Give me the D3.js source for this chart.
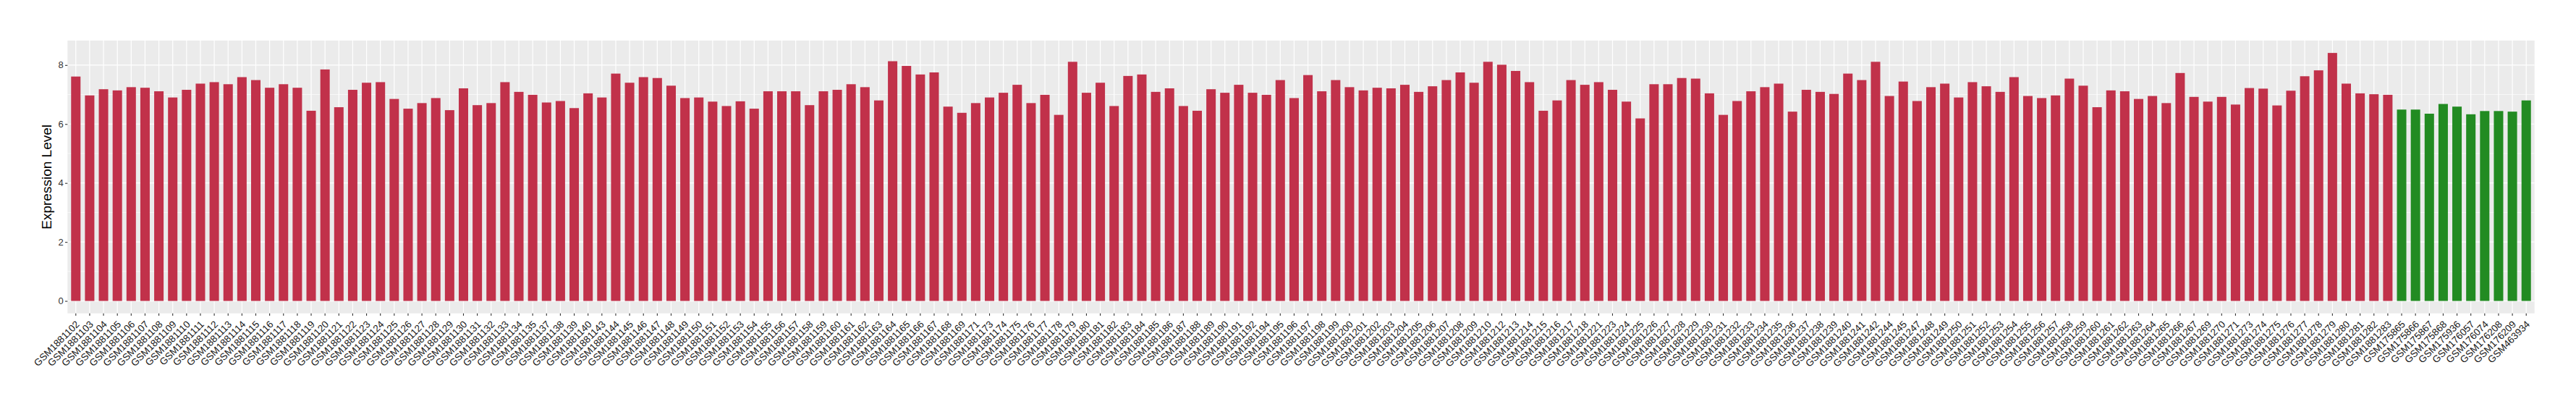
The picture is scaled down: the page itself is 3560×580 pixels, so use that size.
<!DOCTYPE html>
<html>
<head>
<meta charset="utf-8">
<script src="https://cdn.jsdelivr.net/npm/d3@7"></script>
<style>
  body { margin: 0; background: #fff; }
  svg text { font-family: "Liberation Sans", Arial, sans-serif; }
</style>
</head>
<body>
<div class="chart"></div>
<script>
// red group samples (GSE 1881xxx)
var tumorSamples = [
  "GSM1881102","GSM1881103","GSM1881104","GSM1881105","GSM1881106","GSM1881107","GSM1881108","GSM1881109",
  "GSM1881110","GSM1881111","GSM1881112","GSM1881113","GSM1881114","GSM1881115","GSM1881116","GSM1881117",
  "GSM1881118","GSM1881119","GSM1881120","GSM1881121","GSM1881122","GSM1881123","GSM1881124","GSM1881125",
  "GSM1881126","GSM1881127","GSM1881128","GSM1881129","GSM1881130","GSM1881131","GSM1881132","GSM1881133",
  "GSM1881134","GSM1881135","GSM1881137","GSM1881138","GSM1881139","GSM1881140","GSM1881143","GSM1881144",
  "GSM1881145","GSM1881146","GSM1881147","GSM1881148","GSM1881149","GSM1881150","GSM1881151","GSM1881152",
  "GSM1881153","GSM1881154","GSM1881155","GSM1881156","GSM1881157","GSM1881158","GSM1881159","GSM1881160",
  "GSM1881161","GSM1881162","GSM1881163","GSM1881164","GSM1881165","GSM1881166","GSM1881167","GSM1881168",
  "GSM1881169","GSM1881171","GSM1881173","GSM1881174","GSM1881175","GSM1881176","GSM1881177","GSM1881178",
  "GSM1881179","GSM1881180","GSM1881181","GSM1881182","GSM1881183","GSM1881184","GSM1881185","GSM1881186",
  "GSM1881187","GSM1881188","GSM1881189","GSM1881190","GSM1881191","GSM1881192","GSM1881194","GSM1881195",
  "GSM1881196","GSM1881197","GSM1881198","GSM1881199","GSM1881200","GSM1881201","GSM1881202","GSM1881203",
  "GSM1881204","GSM1881205","GSM1881206","GSM1881207","GSM1881208","GSM1881209","GSM1881210","GSM1881212",
  "GSM1881213","GSM1881214","GSM1881215","GSM1881216","GSM1881217","GSM1881218","GSM1881221","GSM1881223",
  "GSM1881224","GSM1881225","GSM1881226","GSM1881227","GSM1881228","GSM1881229","GSM1881230","GSM1881231",
  "GSM1881232","GSM1881233","GSM1881234","GSM1881235","GSM1881236","GSM1881237","GSM1881238","GSM1881239",
  "GSM1881240","GSM1881241","GSM1881242","GSM1881244","GSM1881245","GSM1881247","GSM1881248","GSM1881249",
  "GSM1881250","GSM1881251","GSM1881252","GSM1881253","GSM1881254","GSM1881255","GSM1881256","GSM1881257",
  "GSM1881258","GSM1881259","GSM1881260","GSM1881261","GSM1881262","GSM1881263","GSM1881264","GSM1881265",
  "GSM1881266","GSM1881267","GSM1881269","GSM1881270","GSM1881271","GSM1881273","GSM1881274","GSM1881275",
  "GSM1881276","GSM1881277","GSM1881278","GSM1881279","GSM1881280","GSM1881281","GSM1881282","GSM1881283"
];
var tumorValues = [
  7.61, 6.97, 7.18, 7.14, 7.25, 7.23, 7.11, 6.90, 7.16, 7.37, 7.42, 7.35, 7.59, 7.49, 7.23, 7.35,
  7.23, 6.45, 7.85, 6.57, 7.16, 7.40, 7.42, 6.85, 6.52, 6.71, 6.88, 6.47, 7.21, 6.64, 6.71, 7.42,
  7.09, 6.99, 6.73, 6.78, 6.54, 7.04, 6.90, 7.71, 7.40, 7.59, 7.56, 7.30, 6.88, 6.90, 6.76, 6.61,
  6.77, 6.52, 7.11, 7.11, 7.11, 6.64, 7.11, 7.16, 7.35, 7.25, 6.80, 8.13, 7.97, 7.68, 7.75, 6.59,
  6.38, 6.71, 6.90, 7.06, 7.33, 6.71, 6.99, 6.31, 8.11, 7.06, 7.40, 6.61, 7.63, 7.68, 7.09, 7.21,
  6.61, 6.45, 7.18, 7.06, 7.33, 7.06, 6.99, 7.49, 6.88, 7.66, 7.11, 7.49, 7.25, 7.14, 7.23, 7.21,
  7.33, 7.09, 7.28, 7.49, 7.75, 7.40, 8.11, 8.01, 7.80, 7.42, 6.45, 6.80, 7.49, 7.33, 7.42, 7.16,
  6.76, 6.19, 7.35, 7.35, 7.56, 7.54, 7.04, 6.31, 6.78, 7.11, 7.25, 7.37, 6.42, 7.16, 7.09, 7.02,
  7.71, 7.49, 8.11, 6.95, 7.44, 6.78, 7.25, 7.37, 6.90, 7.42, 7.28, 7.09, 7.59, 6.95, 6.88, 6.97,
  7.54, 7.30, 6.57, 7.14, 7.11, 6.85, 6.95, 6.71, 7.73, 6.92, 6.76, 6.92, 6.66, 7.22, 7.20, 6.63,
  7.13, 7.62, 7.82, 8.41, 7.37, 7.04, 7.01, 6.99
];
// green group samples
var normalSamples = [
  "GSM175865","GSM175866","GSM175867","GSM175868","GSM175936",
  "GSM176057","GSM176074","GSM176208","GSM176209","GSM463934"
];
var normalValues = [6.49, 6.49, 6.35, 6.68, 6.59, 6.33, 6.44, 6.44, 6.42, 6.80];

var yTicks = [0, 2, 4, 6, 8];
var yMinorTicks = [1, 3, 5, 7];
var yTitle = "Expression Level";

var data = tumorSamples.map(function(s, i) { return {sample: s, value: tumorValues[i], group: "tumor"}; })
  .concat(normalSamples.map(function(s, i) { return {sample: s, value: normalValues[i], group: "normal"}; }));

var margin = {top: 56, right: 57.3, bottom: 147.3, left: 93.3},
  width = 3560 - margin.left - margin.right,
  height = 580 - margin.top - margin.bottom;

var color = d3.scaleOrdinal()
  .domain(["tumor", "normal"])
  .range(["#C1314A", "#228B22"]);

var svg = d3.select(".chart").append("svg")
  .attr("width", width + margin.left + margin.right)
  .attr("height", height + margin.top + margin.bottom)
  .style("display", "block")
  .style("background", "#fff");

var g = svg.append("g")
  .attr("transform", "translate(" + margin.left + "," + margin.top + ")");

var x = d3.scaleBand()
  .domain(data.map(function(d) { return d.sample; }))
  .range([0, width])
  .paddingInner(0.32)
  .paddingOuter(0.26);

var yMax = d3.max(data, function(d) { return d.value; });
var y = d3.scaleLinear()
  .domain([-0.05 * yMax, 1.05 * yMax])
  .range([height, 0]);

// panel background and grid
g.append("rect")
  .attr("width", width)
  .attr("height", height)
  .attr("fill", "#EBEBEB");

g.selectAll("line.minor")
  .data(yMinorTicks)
  .enter().append("line")
  .attr("class", "minor")
  .attr("x1", 0).attr("x2", width)
  .attr("y1", function(d) { return y(d); })
  .attr("y2", function(d) { return y(d); })
  .attr("stroke", "#fff")
  .attr("stroke-width", 0.6);

g.selectAll("line.major")
  .data(yTicks)
  .enter().append("line")
  .attr("class", "major")
  .attr("x1", 0).attr("x2", width)
  .attr("y1", function(d) { return y(d); })
  .attr("y2", function(d) { return y(d); })
  .attr("stroke", "#fff")
  .attr("stroke-width", 1.2);

g.selectAll("line.vgrid")
  .data(data)
  .enter().append("line")
  .attr("class", "vgrid")
  .attr("x1", function(d) { return x(d.sample) + x.bandwidth() / 2; })
  .attr("x2", function(d) { return x(d.sample) + x.bandwidth() / 2; })
  .attr("y1", 0).attr("y2", height)
  .attr("stroke", "#fff")
  .attr("stroke-width", 1.2);

// bars
g.selectAll("rect.bar")
  .data(data)
  .enter().append("rect")
  .attr("class", "bar")
  .attr("x", function(d) { return x(d.sample); })
  .attr("width", x.bandwidth())
  .attr("y", function(d) { return y(d.value); })
  .attr("height", function(d) { return y(0) - y(d.value); })
  .attr("fill", function(d) { return color(d.group); });

// y axis
var yAxis = g.append("g")
  .call(d3.axisLeft(y).tickValues(yTicks).tickSize(3.3).tickPadding(2.4));
yAxis.select(".domain").remove();
yAxis.selectAll(".tick line").attr("stroke", "#333").attr("stroke-width", 1.1);
yAxis.selectAll(".tick text")
  .attr("fill", "#333")
  .style("font-size", "13px");

// x axis
var xAxis = g.append("g")
  .attr("transform", "translate(0," + height + ")")
  .call(d3.axisBottom(x).tickSize(3.3));
xAxis.select(".domain").remove();
xAxis.selectAll(".tick line").attr("stroke", "#333").attr("stroke-width", 1.1);
xAxis.selectAll(".tick text")
  .attr("x", 0)
  .attr("y", 0)
  .attr("dy", "0.72em")
  .attr("text-anchor", "end")
  .attr("transform", "translate(-1,9) rotate(-45)")
  .attr("fill", "#1A1A1A")
  .style("font-size", "13.5px");

// axis title
svg.append("text")
  .attr("transform", "translate(70.5," + (margin.top + height / 2) + ") rotate(-90)")
  .attr("text-anchor", "middle")
  .attr("fill", "#000")
  .style("font-size", "19px")
  .text(yTitle);
</script>
</body>
</html>
